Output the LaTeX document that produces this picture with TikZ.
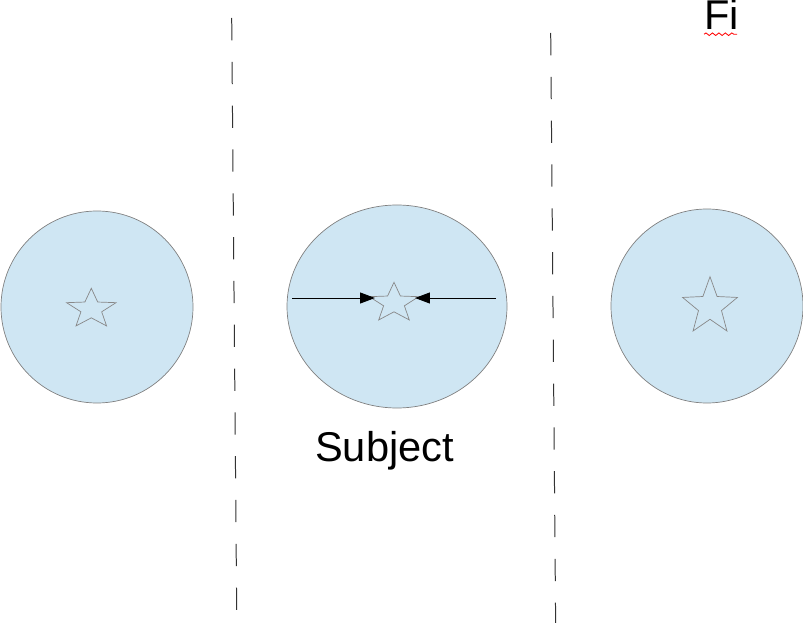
\documentclass[tikz,border=0pt]{standalone}
\usepackage{fontspec}
\newfontfamily\arialfont{Liberation Sans}
\usetikzlibrary{shapes.geometric,arrows.meta,decorations.pathmorphing}

\definecolor{ballblue}{RGB}{207,230,243}
\definecolor{ballline}{RGB}{128,128,128}
\definecolor{stargray}{RGB}{136,136,136}

\tikzset{
  ball/.style={ellipse, draw=ballline, line width=0.6pt, fill=ballblue, inner sep=0pt, outer sep=0pt},
  starline/.style={draw=stargray, line width=0.6pt, line join=miter},
  divider/.style={line width=0.85pt, black!80, dash pattern=on 19pt off 18.4pt},
  push/.style={-{Triangle[length=12.8pt, width=9.4pt]}, line width=0.8pt},
  lbl/.style={font=\arialfont\fontsize{35.5}{42}\selectfont, inner sep=0pt}
}

% star: centre x, centre y, outer radius, x stretch
\newcommand{\drawstar}[4]{%
  \draw[starline, shift={(#1,#2)}, xscale=#4] (-90:#3)
    \foreach \k in {1,...,9} { -- ({-90+36*\k}:{ifthenelse(mod(\k,2)==1,0.42*#3,#3)}) } -- cycle;}

\begin{document}
\begin{tikzpicture}[x=0.03cm, y=-0.03cm]
  \useasboundingbox (0,0) rectangle (803,623);

  % dividers
  \draw[divider] (231.7,18) -- (236.7,612);
  \draw[divider] (550.7,33) -- (555.7,630);

  % the three balls
  \node[ball, minimum width=5.76cm, minimum height=5.76cm] (left) at (97,307) {};
  \node[ball, minimum width=6.6cm, minimum height=6.09cm] (mid) at (397,306.5) {};
  \node[ball, minimum width=5.76cm, minimum height=5.82cm] (right) at (707,306) {};

  \drawstar{91.3}{309.1}{20.8}{1.25}
  \drawstar{394}{303.1}{20.8}{1.25}
  \drawstar{710}{306.7}{30}{0.96}

  % forces on the subject
  \coordinate (inL) at (292,298);
  \coordinate (tipL) at (375,298);
  \coordinate (inR) at (496,298);
  \coordinate (tipR) at (415,298);
  \draw[push] (inL) -- (tipL);
  \draw[push] (inR) -- (tipR);

  \node[lbl, anchor=base west] (subject) at (315,461) {Subject};
  \node[lbl, anchor=base west] (fi) at (704,30) {Fi};
  \draw[red, line width=0.7pt, decorate, decoration={snake, amplitude=1.1pt, segment length=5.5pt}]
    (fi.south west) ++(0,4) -- ++(33,0);
\end{tikzpicture}
\end{document}
